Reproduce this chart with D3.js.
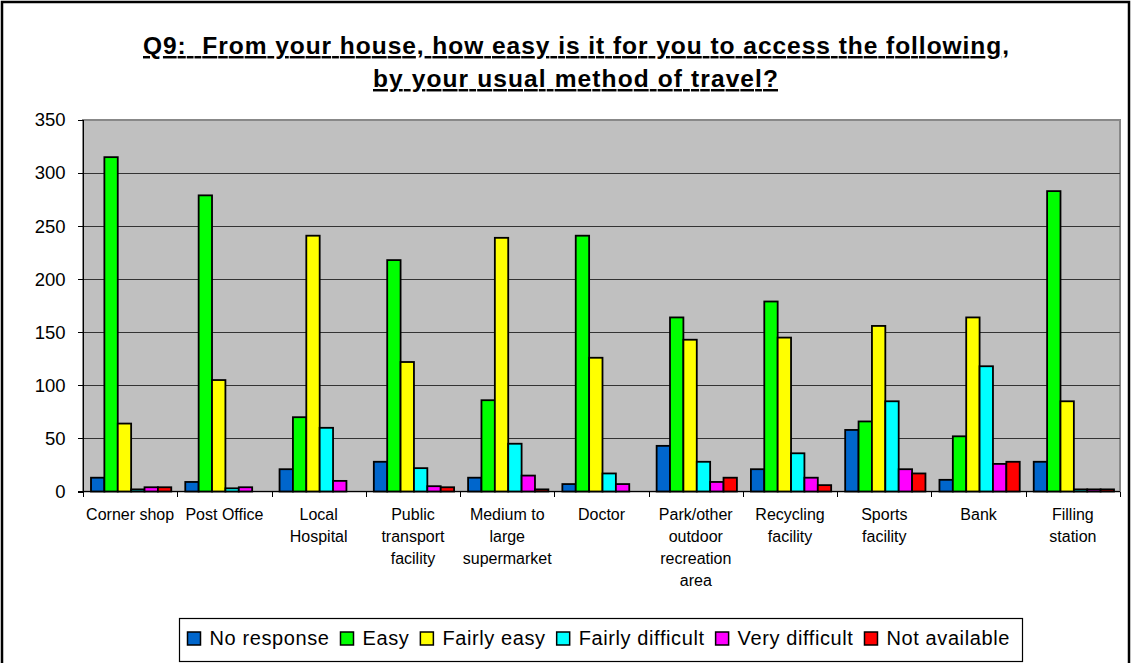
<!DOCTYPE html>
<meta charset="utf-8">
<style>
body { margin: 0; background: #fff; }
svg text { font-family: "Liberation Sans", Arial, sans-serif; fill: #000; }
.title { font-size: 24.5px; font-weight: bold; text-decoration: underline; white-space: pre; }
.axis text { font-size: 18.5px; }
.axis path, .axis line { stroke: #000; shape-rendering: crispEdges; }
.grid line { stroke: #333; stroke-width: 1.3; shape-rendering: crispEdges; }
.cat text { font-size: 16px; }
.legend text { font-size: 20px; letter-spacing: 0.6px; }
</style>
<body>
<svg id="chart" width="1133" height="663"></svg>
<script src="https://d3js.org/d3.v7.min.js"></script>
<script>

var categories = ["Corner shop", "Post Office", "Local Hospital", "Public transport facility",
  "Medium to large supermarket", "Doctor", "Park/other outdoor recreation area",
  "Recycling facility", "Sports facility", "Bank", "Filling station"];

// wrapped label lines as printed under the axis
var categoryLines = [["Corner shop"], ["Post Office"], ["Local", "Hospital"],
  ["Public", "transport", "facility"], ["Medium to", "large", "supermarket"], ["Doctor"],
  ["Park/other", "outdoor", "recreation", "area"], ["Recycling", "facility"],
  ["Sports", "facility"], ["Bank"], ["Filling", "station"]];

var seriesNames = ["No response", "Easy", "Fairly easy", "Fairly difficult", "Very difficult", "Not available"];
var seriesColors = ["#0066cc", "#00ff00", "#ffff00", "#00ffff", "#ff00ff", "#ff0000"];

var noResponse      = [13,   9,  21,  28,  13,   7,  43,  21,  58,  11,  28];
var easy            = [315, 279, 70, 218,  86, 241, 164, 179,  66,  52, 283];
var fairlyEasy      = [64, 105, 241, 122, 239, 126, 143, 145, 156, 164,  85];
var fairlyDifficult = [2,    3,  60,  22,  45,  17,  28,  36,  85, 118,   2];
var veryDifficult   = [4,    4,  10,   5,  15,   7,   9,  13,  21,  26,   2];
var notAvailable    = [4,    0,   0,   4,   2,   0,  13,   6,  17,  28,   2];

var yTicks = [0, 50, 100, 150, 200, 250, 300, 350];

var allSeries = [noResponse, easy, fairlyEasy, fairlyDifficult, veryDifficult, notAvailable];

var svg = d3.select("#chart");

// outer frame
svg.append("rect")
  .attr("x", 2).attr("y", 2).attr("width", 1127).attr("height", 680)
  .attr("fill", "none").attr("stroke", "#000").attr("stroke-width", 2.5);

// title
svg.append("text").attr("class", "title")
  .attr("x", 143).attr("y", 54)
  .attr("textLength", 866).attr("lengthAdjust", "spacing")
  .text("Q9:  From your house, how easy is it for you to access the following,");
svg.append("text").attr("class", "title")
  .attr("x", 373).attr("y", 87)
  .attr("textLength", 405).attr("lengthAdjust", "spacing")
  .text("by your usual method of travel?");

var pLeft = 83, pRight = 1120, pTop = 120, pBottom = 491.5;

var x = d3.scaleBand().domain(categories).range([pLeft, pRight]);
var x1 = d3.scaleBand().domain(seriesNames).range([8, x.bandwidth() - 6]);
var y = d3.scaleLinear().domain([0, 350]).range([pBottom, pTop]);

// plot area
svg.append("rect")
  .attr("x", pLeft).attr("y", pTop).attr("width", pRight - pLeft).attr("height", pBottom - pTop)
  .attr("fill", "#c0c0c0").attr("stroke", "#888").attr("stroke-width", 2);

svg.append("g").attr("class", "grid")
  .selectAll("line").data(yTicks.slice(1, -1)).enter().append("line")
  .attr("x1", pLeft).attr("x2", pRight)
  .attr("y1", function(d) { return Math.round(y(d)) + 0.5; })
  .attr("y2", function(d) { return Math.round(y(d)) + 0.5; });

// bars
var groups = svg.append("g").selectAll("g")
  .data(categories).enter().append("g")
  .attr("transform", function(d) { return "translate(" + x(d) + ",0)"; });

groups.selectAll("rect")
  .data(function(d, i) {
    return seriesNames.map(function(s, j) { return { s: s, j: j, v: allSeries[j][i] }; });
  })
  .enter().append("rect")
  .attr("x", function(d) { return x1(d.s); })
  .attr("width", x1.bandwidth())
  .attr("y", function(d) { return y(d.v); })
  .attr("height", function(d) { return pBottom - y(d.v); })
  .attr("fill", function(d) { return seriesColors[d.j]; })
  .attr("stroke", "#000")
  .attr("stroke-width", function(d) { return d.v > 0 ? 1.8 : 0; });

// y axis
svg.append("g").attr("class", "axis")
  .attr("transform", "translate(" + pLeft + ",0)")
  .call(d3.axisLeft(y).tickValues(yTicks).tickSize(5).tickPadding(12.5))
  .call(function(g) { g.select(".domain").attr("stroke-width", 1.5); });

// x axis with ticks between categories
var xg = svg.append("g").attr("class", "axis");
xg.append("line")
  .attr("x1", pLeft).attr("x2", pRight).attr("y1", pBottom).attr("y2", pBottom)
  .attr("stroke", "#000").attr("stroke-width", 1.5);
xg.selectAll(".tk").data(categories.concat(["end"])).enter().append("line")
  .attr("class", "tk")
  .attr("x1", function(d, i) { return Math.round(pLeft + i * x.step()) + 0.5; })
  .attr("x2", function(d, i) { return Math.round(pLeft + i * x.step()) + 0.5; })
  .attr("y1", pBottom).attr("y2", pBottom + 5);

var cat = svg.append("g").attr("class", "cat");
cat.selectAll("text").data(categories).enter().append("text")
  .attr("text-anchor", "middle")
  .attr("x", function(d) { return x(d) + x.bandwidth() / 2; })
  .attr("y", 520)
  .each(function(d, i) {
    var t = d3.select(this);
    categoryLines[i].forEach(function(line, k) {
      t.append("tspan").attr("x", x(d) + x.bandwidth() / 2).attr("dy", k === 0 ? 0 : 22).text(line);
    });
  });

// legend
var legend = svg.append("g").attr("class", "legend");
legend.append("rect")
  .attr("x", 179.5).attr("y", 618.5).attr("width", 843).attr("height", 43)
  .attr("fill", "#fff").attr("stroke", "#000").attr("stroke-width", 1.2);

var lx = 187.5;
seriesNames.forEach(function(s, j) {
  legend.append("rect")
    .attr("x", lx).attr("y", 632).attr("width", 13).attr("height", 13)
    .attr("fill", seriesColors[j]).attr("stroke", "#000").attr("stroke-width", 1.5);
  var t = legend.append("text").attr("x", lx + 22).attr("y", 645).text(s);
  lx += 22 + t.node().getComputedTextLength() + 11;
});

</script>
</body>
